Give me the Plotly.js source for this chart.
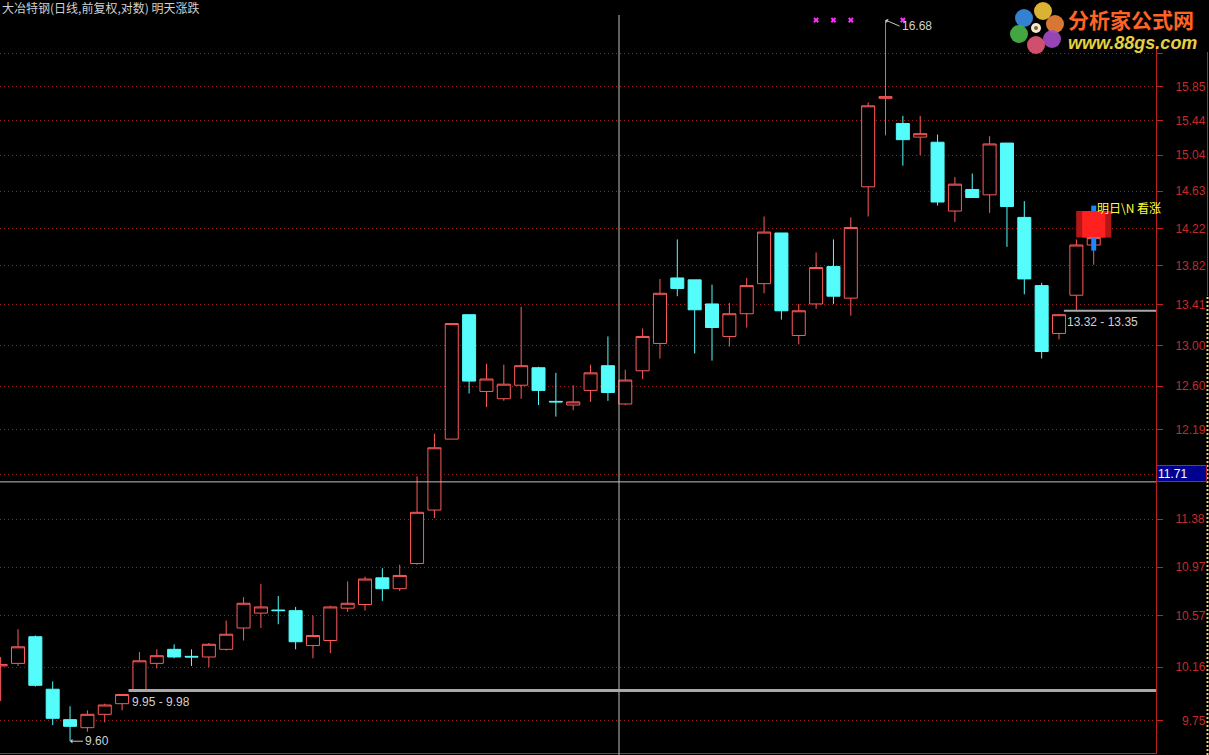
<!DOCTYPE html>
<html>
<head>
<meta charset="utf-8">
<script src="https://cdn.plot.ly/plotly-3.0.1.min.js"></script>
<style>
html,body{margin:0;padding:0;background:#000;}
#chart{width:1209px;height:755px;}
</style>
</head>
<body>
<div id="chart"></div>
<script>
// ---- data (daily candles, index = trading day) ----
const opens  = [10.17,10.19,10.40,9.99,9.76,9.70,9.80,9.88,9.98,10.19,
                10.30,10.245,10.24,10.30,10.47,10.59,10.615,10.61,10.33,10.37,
                10.63,10.66,10.88,10.79,11.00,11.46,12.10,13.31,12.55,12.48,
                12.61,12.78,12.455,12.42,12.56,12.80,12.43,12.75,13.02,13.69,
                13.67,13.42,13.09,13.32,13.63,14.17,13.10,13.42,13.81,13.48,
                14.68,15.71,15.41,15.25,15.19,14.41,14.65,14.59,15.18,14.34,
                13.61,13.12,13.51,14.04];
const highs  = [10.24,10.46,10.41,10.05,9.86,9.83,9.88,9.95,10.28,10.30,
                10.34,10.30,10.35,10.53,10.72,10.83,10.73,10.64,10.57,10.65,
                10.85,10.89,10.96,10.99,11.76,12.15,13.22,13.31,12.82,12.81,
                13.39,12.79,12.73,12.61,12.81,13.09,12.76,13.17,13.68,14.10,
                13.67,13.62,13.43,13.69,14.35,14.17,13.42,13.96,14.10,14.34,
                15.66,16.68,15.50,15.50,15.28,14.79,14.83,15.26,15.18,14.52,
                13.64,13.32,14.10,14.12];
const lows   = [9.90,10.17,10.01,9.72,9.60,9.67,9.74,9.83,9.98,10.15,
                10.23,10.17,10.16,10.29,10.37,10.47,10.50,10.30,10.23,10.27,
                10.60,10.61,10.69,10.77,10.99,11.39,12.10,12.53,12.40,12.46,
                12.48,12.42,12.31,12.37,12.45,12.46,12.42,12.67,12.87,13.50,
                12.92,12.85,12.99,13.18,13.53,13.26,13.01,13.37,13.42,13.30,
                14.35,15.27,14.92,15.04,14.47,14.29,14.56,14.39,14.02,13.52,
                12.87,13.06,13.35,13.83];
const closes = [10.18,10.32,10.02,9.77,9.71,9.80,9.87,9.95,10.21,10.25,
                10.24,10.24,10.34,10.42,10.67,10.64,10.61,10.36,10.41,10.64,
                10.67,10.87,10.79,10.90,11.44,12.02,13.22,12.65,12.67,12.62,
                12.80,12.56,12.45,12.45,12.73,12.54,12.66,13.09,13.53,13.58,
                13.36,13.18,13.32,13.61,14.18,13.35,13.35,13.80,13.50,14.23,
                15.62,15.73,15.22,15.29,14.51,14.71,14.56,15.17,14.46,13.68,
                12.94,13.31,14.04,14.12];
const days = opens.map((_, i) => i);

// grid levels; 16.26 and 11.78 have their labels hidden (logo / cursor box cover them)
const tickValues = [16.26,15.85,15.44,15.04,14.63,14.22,13.82,13.41,13.00,12.60,12.19,11.78,11.38,10.97,10.57,10.16,9.75];
const hiddenTicks = [16.26, 11.78];
const tickLabels = tickValues.map(v => hiddenTicks.includes(v) ? '' : (v < 10 ? '\u2007' : '') + v.toFixed(2));

const signalDays   = [47, 48, 49, 52];
const signalLevels = [16.68, 16.68, 16.68, 16.68];

const gapLow   = [9.95, 13.32];
const gapHigh  = [9.98, 13.35];
const gapFrom  = [7.37, 61.28];
const gapWidth = [3, 2];

const peakDay = 51, peakValue = 16.68;
const troughDay = 4, troughValue = 9.60;

const forecastDay = 63;
const forecastBoxLo = 14.12, forecastBoxHi = 14.41;
const forecastBarLo = 13.98, forecastBarHi = 14.47;
const forecastTextLevel = 14.45;
const forecastText = '明日\\N 看涨';

const cursorDay = 35.64, cursorPrice = 11.71;

const titleText = '大冶特钢(日线,前复权,对数) 明天涨跌';

// ---- geometry ----
const W = 1209, H = 755, ML = 0, MR = 53, MT = 15, MB = 2;
const PW = W - ML - MR, PH = H - MT - MB;
const xRange = [-0.0375, 66.59];
const yRange = [0.97835, 1.22389];
const px = x => (x - ML) / PW;
const py = y => (H - MB - y) / PH;
const L = v => Math.log10(v);   // annotation positions on a log axis

const RED = '#ff5a5a', CYAN = '#54fcfc', AXRED = '#c02020';
const lab = {family: 'Liberation Sans, Arial, sans-serif', size: 12, color: '#d0d0d0'};

const traces = [
  {type: 'bar', x: [forecastDay], base: [forecastBoxLo], y: [forecastBoxHi - forecastBoxLo],
   width: 2.02, marker: {color: '#b41616', line: {width: 0}}, hoverinfo: 'skip', showlegend: false},
  {type: 'bar', x: [forecastDay], base: [forecastBoxLo], y: [forecastBoxHi - forecastBoxLo],
   width: 1.33, marker: {color: '#ff2020', line: {width: 0}}, hoverinfo: 'skip', showlegend: false},
  {type: 'candlestick', x: days, open: opens, high: highs, low: lows, close: closes,
   increasing: {line: {color: RED, width: 1}, fillcolor: '#000000'},
   decreasing: {line: {color: CYAN, width: 1}, fillcolor: CYAN},
   whiskerwidth: 0, hoverinfo: 'skip', showlegend: false},
  {type: 'scatter', mode: 'lines', x: [forecastDay, forecastDay], y: [forecastBarLo, forecastBoxLo],
   line: {color: '#1e86ff', width: 5}, hoverinfo: 'skip', showlegend: false},
  {type: 'scatter', mode: 'lines', x: [forecastDay, forecastDay], y: [forecastBoxHi, forecastBarHi],
   line: {color: '#1e86ff', width: 5}, hoverinfo: 'skip', showlegend: false},
  {type: 'scatter', mode: 'markers', x: signalDays, y: signalLevels,
   marker: {symbol: 'x', size: 5, color: '#ff30ff', line: {width: 0}},
   hoverinfo: 'skip', showlegend: false}
];

const shapes = [
  {type: 'line', layer: 'above', xref: 'x', yref: 'paper', x0: cursorDay, x1: cursorDay, y0: py(755), y1: 1,
   line: {color: '#c0c0c0', width: 1}},
  {type: 'line', layer: 'above', xref: 'paper', yref: 'y', x0: 0, x1: 1, y0: cursorPrice, y1: cursorPrice,
   line: {color: '#c0c0c0', width: 1}},
  {type: 'line', layer: 'above', xref: 'paper', yref: 'paper', x0: px(1207.5), x1: px(1207.5), y0: py(296), y1: py(48),
   line: {color: AXRED, width: 1}},
  {type: 'line', layer: 'above', xref: 'paper', yref: 'paper', x0: px(1207.5), x1: px(1207.5), y0: py(755), y1: py(296),
   line: {color: '#f0e060', width: 2, dash: '2px,2px'}},
  {type: 'rect', layer: 'above', xref: 'paper', yref: 'paper', x0: px(1004), x1: px(1160), y0: py(46), y1: py(-2),
   fillcolor: '#000000', line: {width: 0}},
  {type: 'rect', layer: 'above', xref: 'paper', yref: 'paper', x0: px(1160), x1: px(1210), y0: py(52), y1: py(-2),
   fillcolor: '#000000', line: {width: 0}}
];
gapFrom.forEach((x0, i) => {
  shapes.push({type: 'line', layer: 'above', xref: 'x', yref: 'y', x0: x0, x1: xRange[1],
    y0: gapHigh[i], y1: gapHigh[i], line: {color: '#a8a8a8', width: gapWidth[i]}});
});
const petals = [[1024,18,'#3a8ee8'],[1043,11,'#f2c53a'],[1055,24,'#f0843a'],[1052,39,'#a64cc8'],
                [1036,45,'#e8587a'],[1019,34,'#4ab84a']];
petals.forEach(([cx, cy, c]) => {
  shapes.push({type: 'circle', layer: 'above', xref: 'paper', yref: 'paper',
    x0: px(cx - 9), x1: px(cx + 9), y0: py(cy + 9), y1: py(cy - 9),
    fillcolor: c, opacity: 0.9, line: {width: 0}});
});
shapes.push({type: 'circle', layer: 'above', xref: 'paper', yref: 'paper',
  x0: px(1031), x1: px(1041), y0: py(33), y1: py(23), fillcolor: '#f4ead0', line: {width: 0}});
shapes.push({type: 'circle', layer: 'above', xref: 'paper', yref: 'paper',
  x0: px(1034), x1: px(1038), y0: py(30), y1: py(26), fillcolor: '#806040', line: {width: 0}});

const annotations = [
  {xref: 'paper', yref: 'paper', x: 0, y: py(8), xanchor: 'left', yanchor: 'middle', xshift: 0,
   text: titleText, showarrow: false,
   font: {family: 'Noto Sans CJK SC, sans-serif', size: 12, color: '#d0d0d0'}},
  {xref: 'x', yref: 'y', x: peakDay, y: L(peakValue), text: peakValue.toFixed(2), showarrow: true,
   ax: 14, ay: 6, xanchor: 'left', yanchor: 'middle', arrowhead: 1, arrowsize: 0.8, arrowwidth: 1,
   arrowcolor: '#c8c8c8', standoff: 0, font: lab},
  {xref: 'x', yref: 'y', x: troughDay, y: L(troughValue), text: troughValue.toFixed(2), showarrow: true,
   ax: 13, ay: 0, xanchor: 'left', yanchor: 'middle', arrowhead: 1, arrowsize: 0.8, arrowwidth: 1,
   arrowcolor: '#c8c8c8', standoff: 0, font: lab},
  {xref: 'paper', yref: 'y', x: 1, y: L(cursorPrice), xanchor: 'left', yanchor: 'bottom',
   text: cursorPrice.toFixed(2), showarrow: false, bgcolor: '#000090', bordercolor: AXRED,
   borderwidth: 1, borderpad: 1, width: 47, height: 13, align: 'left',
   font: {family: 'Liberation Sans, Arial, sans-serif', size: 12, color: '#ffffff'}},
  {xref: 'x', yref: 'y', x: forecastDay, y: L(forecastTextLevel), xanchor: 'left', yanchor: 'middle', xshift: 1,
   text: forecastText, showarrow: false,
   font: {family: 'Noto Sans CJK SC, sans-serif', size: 12, color: '#ffff40'}},
  {xref: 'paper', yref: 'paper', x: px(1066), y: py(19), xanchor: 'left', yanchor: 'middle',
   text: '<b>分析家公式网</b>', showarrow: false,
   font: {family: 'Noto Sans CJK SC, sans-serif', size: 21, color: '#ff6424'}},
  {xref: 'paper', yref: 'paper', x: px(1066), y: py(43), xanchor: 'left', yanchor: 'middle',
   text: '<b><i>www.88gs.com</i></b>', showarrow: false,
   font: {family: 'Liberation Sans, Arial, sans-serif', size: 18, color: '#e6d040'}}
];
gapFrom.forEach((x0, i) => {
  annotations.push({xref: 'x', yref: 'y', x: x0, y: L(gapHigh[i]), xanchor: 'left', yanchor: 'top',
    yshift: -2, xshift: 1, showarrow: false,
    text: gapLow[i].toFixed(2) + ' - ' + gapHigh[i].toFixed(2), font: lab});
});

const layout = {
  width: W, height: H,
  margin: {l: ML, r: MR, t: MT, b: MB, pad: 0},
  paper_bgcolor: '#000000', plot_bgcolor: '#000000',
  showlegend: false, barmode: 'overlay', boxgap: 0.25, boxgroupgap: 0,
  xaxis: {range: xRange, showgrid: false, zeroline: false, showticklabels: false, ticks: '',
          showline: true, linecolor: AXRED, linewidth: 1, rangeslider: {visible: false}, fixedrange: true},
  yaxis: {type: 'log', range: yRange, side: 'right', tickmode: 'array', tickvals: tickValues, ticktext: tickLabels,
          ticks: 'outside', ticklen: 6, tickcolor: AXRED, ticklabelstandoff: 10,
          showgrid: true, gridcolor: '#9a1e1e', griddash: '1px,3px', gridwidth: 1,
          zeroline: false, showline: true, linecolor: AXRED, linewidth: 1, fixedrange: true,
          tickfont: {family: 'Liberation Sans, Arial, sans-serif', size: 12, color: '#c42a2a'}},
  shapes: shapes,
  annotations: annotations
};

Plotly.newPlot('chart', traces, layout, {staticPlot: true, displayModeBar: false});
</script>
</body>
</html>
